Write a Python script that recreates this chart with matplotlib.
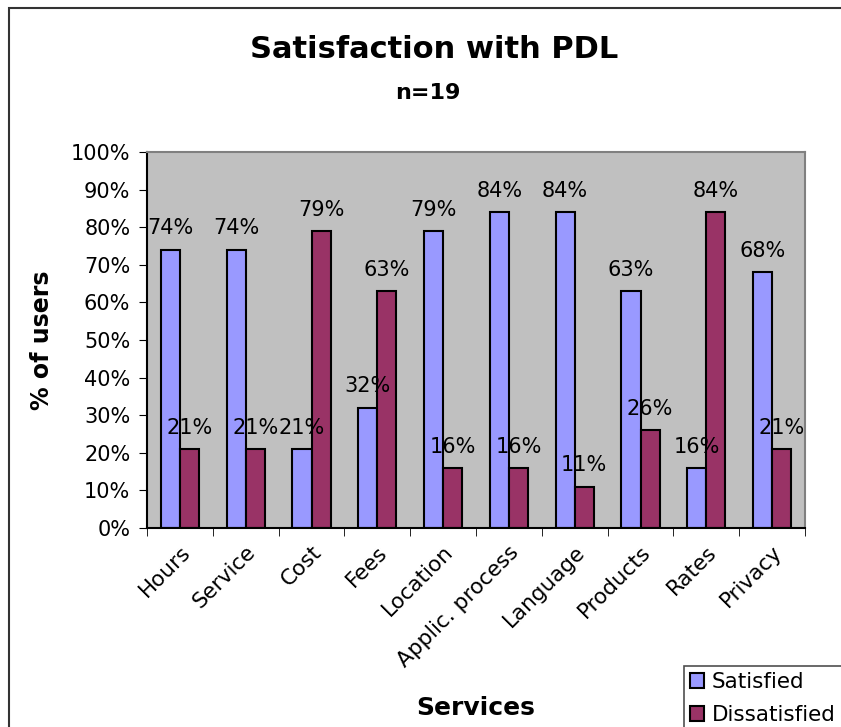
import numpy as np
import matplotlib
matplotlib.use("Agg")
import matplotlib.pyplot as plt
from matplotlib.patches import Rectangle

services = ["Hours", "Service", "Cost", "Fees", "Location", "Applic. process",
            "Language", "Products", "Rates", "Privacy"]
satisfied = [74, 74, 21, 32, 79, 84, 84, 63, 16, 68]
dissatisfied = [21, 21, 79, 63, 16, 16, 11, 26, 84, 21]
yticks = [0, 10, 20, 30, 40, 50, 60, 70, 80, 90, 100]

plt.rcParams['font.family'] = ['DejaVu Sans']

W, H = 841, 727
fig = plt.figure(figsize=(W / 100, H / 100), dpi=100)
ax = fig.add_axes([147 / W, 1 - 528 / H, (805 - 147) / W, (528 - 152) / H])

# chart area border (cut off at right / bottom in the original)
fig.patches.append(Rectangle((9 / W, -0.01), 1.0, 1 - 8 / H + 0.01, transform=fig.transFigure,
                             fill=False, edgecolor='#333333', linewidth=1.5))

x = np.arange(len(services))
w = 0.29
b1 = ax.bar(x - w / 2, satisfied, w, color='#9999FF', edgecolor='black', linewidth=1.5, label='Satisfied')
b2 = ax.bar(x + w / 2, dissatisfied, w, color='#993366', edgecolor='black', linewidth=1.5, label='Dissatisfied')
for bars, vals in ((b1, satisfied), (b2, dissatisfied)):
    for r, v in zip(bars, vals):
        ax.text(r.get_x() + r.get_width() / 2, v + 3, "%d%%" % v, ha='center', va='bottom', fontsize=15)

ax.set_facecolor('#C0C0C0')
ax.set_xlim(-0.5, len(services) - 0.5)
ax.set_ylim(0, 100)
ax.set_yticks(yticks)
ax.set_yticklabels(["%d%%" % t for t in yticks], fontsize=15)
ax.set_xticks(x)
ax.set_xticklabels(services, rotation=45, ha='right', rotation_mode='anchor', fontsize=15.5)
ax.tick_params(axis='x', length=0, pad=10)
ax.set_xticks(np.arange(len(services) + 1) - 0.5, minor=True)
ax.tick_params(axis='x', which='minor', length=6, color='black')
ax.tick_params(axis='y', length=6, color='black', pad=6)
for s in ax.spines.values():
    s.set_color('#808080')
    s.set_linewidth(1.5)
ax.spines['left'].set_color('black')
ax.spines['bottom'].set_color('black')

ax.set_ylabel("% of users", fontsize=17, fontweight='bold', labelpad=12)
fig.text(476 / W, 1 - 708 / H, "Services", ha='center', va='center', fontsize=18, fontweight='bold')
fig.text(434 / W, 1 - 50 / H, "Satisfaction with PDL", ha='center', va='center', fontsize=22, fontweight='bold')
fig.text(428 / W, 1 - 93 / H, "n=19", ha='center', va='center', fontsize=16, fontweight='bold')

leg = fig.legend(handles=[b1, b2], loc='lower left', bbox_to_anchor=(684 / W, -0.006),
                 fontsize=15.5, frameon=True, fancybox=False, handlelength=0.65, handleheight=0.65,
                 handletextpad=0.35, borderpad=0.3, borderaxespad=0, labelspacing=0.6)
leg.get_frame().set_edgecolor('#222222')
leg.get_frame().set_linewidth(1.2)

fig.savefig("out.png", dpi=100)
